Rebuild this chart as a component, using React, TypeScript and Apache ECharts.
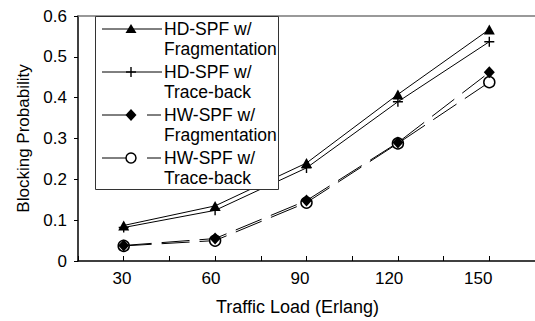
import React, { useEffect, useRef } from "react";
import * as echarts from "echarts";

const loads = [30, 60, 90, 120, 150];
const hdFrag = [0.087, 0.135, 0.24, 0.408, 0.567];
const hdTrace = [0.082, 0.124, 0.228, 0.39, 0.537];
const hwFrag = [0.038, 0.055, 0.148, 0.29, 0.462];
const hwTrace = [0.037, 0.05, 0.143, 0.288, 0.438];
const legendNames = [
  "HD-SPF w/\nFragmentation",
  "HD-SPF w/\nTrace-back",
  "HW-SPF w/\nFragmentation",
  "HW-SPF w/\nTrace-back",
];
const xTickLabels = [30, 60, 90, 120, 150];

const FONT = "'Liberation Sans', Arial, sans-serif";
const PLUS = "path://M4.3,0H5.7V10H4.3Z M0,4.3H10V5.7H0Z";
const DASH = [28, 10];

export default function App() {
  const ref = useRef<HTMLDivElement>(null);
  useEffect(() => {
    const chart = echarts.init(ref.current!, null, { renderer: "svg" });
    const pairs = (ys: number[]) => loads.map((x, i) => [x, ys[i]]);
    const base = {
      type: "line",
      xAxisIndex: 0,
      yAxisIndex: 0,
      symbolKeepAspect: true,
      z: 3,
    };
    const rowY = [29, 72, 115, 158];
    const lx = 131;
    const legendGraphic: any[] = [
      {
        type: "rect",
        shape: { x: 95.5, y: 16.5, width: 183, height: 173 },
        style: { fill: "#fff", stroke: "#333", lineWidth: 1 },
        z: 10,
      },
    ];
    rowY.forEach((y, i) => {
      if (i < 2) {
        legendGraphic.push({
          type: "line",
          shape: { x1: 102, y1: y, x2: 162, y2: y },
          style: { stroke: "#000", lineWidth: 1 },
          z: 11,
        });
      } else {
        legendGraphic.push({
          type: "line",
          shape: { x1: 102, y1: y, x2: 131, y2: y },
          style: { stroke: "#000", lineWidth: 1 },
          z: 11,
        });
        legendGraphic.push({
          type: "line",
          shape: { x1: 147, y1: y, x2: 161, y2: y },
          style: { stroke: "#000", lineWidth: 1 },
          z: 11,
        });
      }
      legendGraphic.push({
        type: "text",
        x: 164,
        y: y - 10,
        style: {
          text: legendNames[i],
          font: `17.5px ${FONT}`,
          lineHeight: 20,
          fill: "#000",
          verticalAlign: "top",
        },
        z: 11,
      });
    });
    legendGraphic.push(
      {
        type: "polygon",
        shape: { points: [[lx, rowY[0] - 5], [lx + 5.5, rowY[0] + 4], [lx - 5.5, rowY[0] + 4]] },
        style: { fill: "#000" },
        z: 12,
      },
      {
        type: "line",
        shape: { x1: lx, y1: rowY[1] - 5, x2: lx, y2: rowY[1] + 5 },
        style: { stroke: "#000", lineWidth: 1.4 },
        z: 12,
      },
      {
        type: "line",
        shape: { x1: lx - 5, y1: rowY[1], x2: lx + 5, y2: rowY[1] },
        style: { stroke: "#000", lineWidth: 1.4 },
        z: 12,
      },
      {
        type: "polygon",
        shape: {
          points: [[lx, rowY[2] - 6], [lx + 5.5, rowY[2]], [lx, rowY[2] + 6], [lx - 5.5, rowY[2]]],
        },
        style: { fill: "#000" },
        z: 12,
      },
      {
        type: "circle",
        shape: { cx: lx, cy: rowY[3], r: 5 },
        style: { fill: "#fff", stroke: "#000", lineWidth: 1.5 },
        z: 12,
      }
    );

    chart.setOption({
      animation: false,
      backgroundColor: "#fff",
      textStyle: { fontFamily: FONT, color: "#000" },
      grid: { left: 78, top: 16, right: -5.5, bottom: 55.5, containLabel: false },
      xAxis: [
        {
          type: "value",
          position: "bottom",
          min: 15,
          max: 165,
          interval: 15,
          axisLine: { show: true, onZero: false, lineStyle: { color: "#000", width: 1.5 } },
          axisTick: { show: true, inside: true, length: 5, lineStyle: { color: "#000", width: 1 } },
          axisLabel: { show: false },
          splitLine: { show: false },
          name: "Traffic Load (Erlang)",
          nameLocation: "middle",
          nameGap: 37,
          nameTextStyle: { fontSize: 18, color: "#000", fontFamily: FONT, padding: [0, 18, 0, 0] },
        },
        {
          type: "value",
          position: "bottom",
          min: 15.19,
          max: 169.14,
          axisLine: { show: false },
          axisTick: { show: false },
          splitLine: { show: false },
          axisLabel: {
            show: true,
            customValues: xTickLabels,
            fontSize: 17,
            color: "#000",
            fontFamily: FONT,
            margin: 9,
            showMinLabel: true,
            showMaxLabel: true,
          },
        },
        {
          type: "value",
          position: "top",
          min: 15,
          max: 165,
          axisLine: { show: true, lineStyle: { color: "#777", width: 1.5 } },
          axisTick: { show: false },
          axisLabel: { show: false },
          splitLine: { show: false },
        },
      ],
      yAxis: {
        type: "value",
        min: 0,
        max: 0.6,
        interval: 0.1,
        axisLine: { show: true, lineStyle: { color: "#000", width: 1.5 } },
        axisTick: { show: true, inside: false, length: 4, lineStyle: { color: "#000" } },
        axisLabel: {
          fontSize: 17,
          color: "#000",
          fontFamily: FONT,
          margin: 11,
          formatter: (v: number) => (v === 0 ? "0" : v.toFixed(1)),
        },
        splitLine: { show: false },
        name: "Blocking Probability",
        nameLocation: "middle",
        nameGap: 46,
        nameTextStyle: { fontSize: 17, color: "#000", fontFamily: FONT },
      },
      graphic: legendGraphic,
      series: [
        {
          ...base,
          name: "HW-SPF w/ Trace-back",
          data: pairs(hwTrace),
          symbol: "circle",
          symbolSize: 11,
          lineStyle: { color: "#000", width: 1, type: DASH },
          itemStyle: { color: "#fff", borderColor: "#000", borderWidth: 1.5 },
        },
        {
          ...base,
          name: "HW-SPF w/ Fragmentation",
          data: pairs(hwFrag),
          symbol: "diamond",
          symbolSize: [11, 12],
          lineStyle: { color: "#000", width: 1, type: DASH },
          itemStyle: { color: "#000" },
        },
        {
          ...base,
          name: "HD-SPF w/ Trace-back",
          data: pairs(hdTrace),
          symbol: PLUS,
          symbolSize: 10,
          lineStyle: { color: "#000", width: 1 },
          itemStyle: { color: "#000" },
        },
        {
          ...base,
          name: "HD-SPF w/ Fragmentation",
          data: pairs(hdFrag),
          symbol: "triangle",
          symbolSize: [11, 10],
          lineStyle: { color: "#000", width: 1 },
          itemStyle: { color: "#000" },
        },
      ],
    });
    return () => chart.dispose();
  }, []);
  return (
    <div
      ref={ref}
      style={{ width: 535, height: 321, position: "fixed", left: 0, top: 0 }}
    />
  );
}
